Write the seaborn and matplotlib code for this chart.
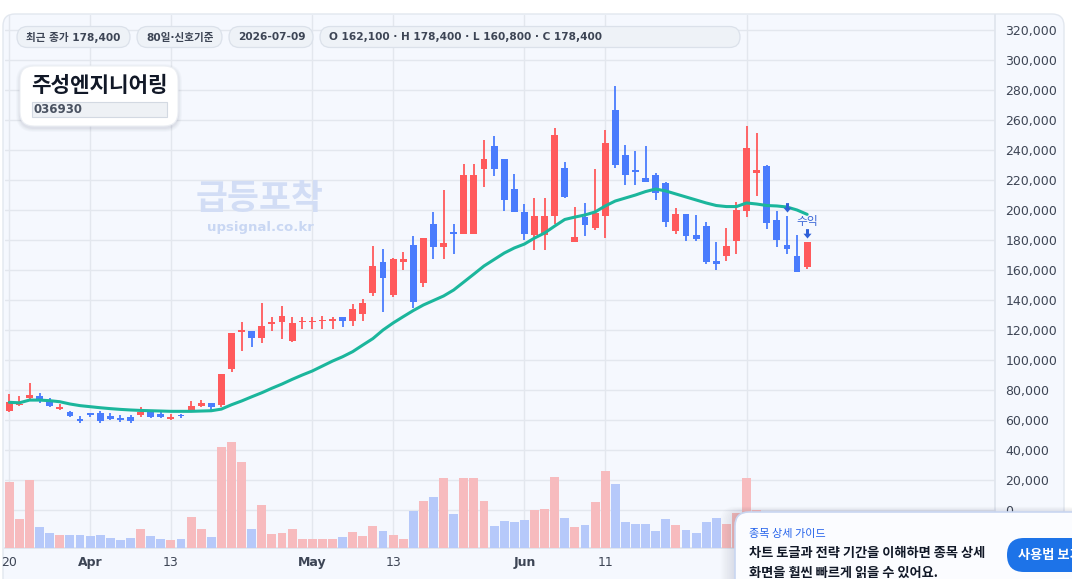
import numpy as np
import pandas as pd
import matplotlib
matplotlib.use("Agg")
import matplotlib.pyplot as plt
import seaborn as sns
from matplotlib.patches import FancyBboxPatch, Rectangle
from matplotlib.path import Path

# ---------------- data ----------------
dates = pd.bdate_range("2026-03-20", "2026-07-09")

opens = [66200, 70000, 74900, 75800, 72200, 67300, 65100, 60700, 64400, 64400,
         62900, 61500, 62200, 63500, 65300, 64000, 60500, 63500, 66900, 69300,
         71100, 70000, 94200, 118900, 119300, 114900, 124000, 125100, 112900, 125100,
         125200, 125800, 126200, 128700, 126200, 130900, 144700, 165300, 143600, 165500,
         176700, 151500, 190700, 175500, 185100, 184200, 184200, 227500, 242700, 234000,
         214000, 198700, 183500, 183500, 196200, 228000, 178900, 195300, 188000, 196200,
         266700, 236700, 226700, 221300, 223300, 218200, 186000, 197300, 183300, 189300,
         166000, 169300, 179500, 199300, 224900, 229500, 193300, 176700, 169300, 162100]
closes = [71800, 70900, 76700, 73100, 69300, 68700, 62900, 59100, 63500, 59500,
          60900, 59800, 59100, 65300, 62200, 61800, 62200, 62500, 69300, 71100,
          68700, 90700, 118000, 119600, 114900, 122700, 125500, 129300, 124700, 125300,
          125400, 126000, 126400, 126200, 134000, 138000, 162700, 154900, 167300, 167300,
          138700, 181300, 175500, 178000, 184200, 223300, 223300, 234000, 227500, 206900,
          198900, 184200, 196000, 196000, 250000, 208700, 182000, 190200, 198200, 244700,
          230200, 223500, 225500, 218700, 211500, 192000, 197300, 182700, 180900, 165500,
          164200, 176000, 200000, 241300, 226700, 191500, 180200, 174200, 158900, 178400]
highs = [77300, 76000, 84700, 78000, 74500, 70700, 66000, 62700, 64400, 65800,
         64700, 63100, 63100, 68700, 66400, 65100, 64000, 64200, 72700, 73300,
         71100, 90700, 118000, 125300, 119300, 138200, 128900, 136000, 128700, 128400,
         128900, 129300, 128900, 128700, 137500, 140400, 176000, 174000, 168200, 172000,
         182700, 181300, 198700, 213300, 190700, 230900, 230900, 246700, 249300, 234000,
         224200, 204000, 208000, 208000, 254900, 232000, 202000, 204700, 227300, 253300,
         282700, 243300, 239300, 242700, 224700, 218700, 201300, 197300, 196700, 192000,
         178900, 188000, 205300, 256000, 251300, 230200, 199300, 196000, 183100, 178400]
lows = [65500, 69300, 73300, 71500, 68700, 66700, 62200, 58200, 61800, 58200,
        60200, 58900, 57800, 62200, 61500, 61300, 59800, 61500, 66200, 68700,
        66400, 68700, 92200, 106000, 108900, 111100, 119500, 114000, 112200, 120700,
        120700, 120700, 120700, 122200, 122900, 125800, 142900, 132200, 141800, 160200,
        134900, 148900, 167500, 167500, 170700, 184200, 184200, 215500, 222900, 199500,
        198900, 180200, 173500, 173500, 190900, 208200, 178900, 182900, 186900, 181500,
        228200, 216900, 216900, 218700, 206900, 188700, 184000, 179300, 179300, 164200,
        160200, 166200, 170900, 195500, 209500, 187500, 175500, 170900, 158900, 160800]
volumes_k = [788, 344, 812, 248, 176, 152, 152, 152, 140, 152,
             116, 92, 116, 224, 140, 104, 92, 104, 368, 224,
             128, 1208, 1268, 1028, 224, 512, 164, 176, 224, 104,
             104, 104, 104, 128, 188, 140, 260, 200, 152, 104,
             440, 560, 608, 836, 404, 836, 836, 560, 260, 320,
             308, 332, 452, 464, 848, 356, 248, 272, 548, 920,
             764, 308, 284, 284, 200, 344, 272, 212, 176, 308,
             356, 284, 416, 840, 456, 360, 300, 240, 360, 336]
ma_values = [71800, 71500, 73300, 73300, 72900, 72200, 70700, 69600, 68900, 68200,
             67600, 67100, 66700, 66400, 66200, 66000, 65800, 65800, 65800, 66000,
             66200, 67300, 70200, 72700, 75500, 78200, 81200, 84000, 87100, 90000,
             92700, 96000, 99300, 102200, 105600, 110000, 114300, 120000, 124700, 128900,
             133000, 136700, 139700, 142700, 146700, 152000, 157300, 162700, 167000, 171300,
             174700, 177300, 181300, 184700, 189300, 193700, 195300, 196700, 198700, 202700,
             206000, 208000, 210000, 212300, 214000, 212700, 210700, 208700, 206700, 204700,
             203000, 202300, 202300, 204700, 204000, 203000, 202700, 202000, 200000, 197100]

# "Jul" tick (index 73) sits under the guide popup in the reference, so its label is empty
tick_idx = [0, 8, 16, 30, 38, 51, 59, 73]
tick_labels = ["20", "Apr", "13", "May", "13", "Jun", "11", ""]
tick_bold = [False, True, False, True, False, True, False, True]
price_ticks = list(range(0, 320001, 20000))

signal_idx = [77, 79]
signal_price = [201500, 183700]
signal_text = "수익"
signal_text_idx = 79
signal_text_price = 192300

stock_name = "주성엔지니어링"
stock_code = "036930"
pill_texts = ["최근 종가 178,400", "80일·신호기준", "2026-07-09",
              "O 162,100 · H 178,400 · L 160,800 · C 178,400"]

# ---------------- style ----------------
sns.set_theme(style="white")
plt.rcParams["font.family"] = ["DejaVu Sans", "Noto Sans CJK KR"]

UP = "#ff5a5c"
DOWN = "#4a7cfd"
UP_V = "#f7bbbe"
DOWN_V = "#b6c9fa"
TXT = "#3d4555"
CJK = ["Noto Sans CJK KR", "DejaVu Sans"]

W, H = 1072, 579
fig = plt.figure(figsize=(W / 100, H / 100), dpi=100)
fig.patch.set_facecolor("#ffffff")

# background container
bg = fig.add_axes([0, 0, 1, 1], zorder=-5)
bg.set_xlim(0, W); bg.set_ylim(H, 0); bg.axis("off")
bg.add_patch(FancyBboxPatch((3, 14), 1061, 620, boxstyle="round,pad=0,rounding_size=12",
                            fc="#f5f8fe", ec="#e2e7ef", lw=1.0))

# main price axes
L, R, T, B = 5, 995, 15, 548
ax = fig.add_axes([L / W, 1 - B / H, (R - L) / W, (B - T) / H], zorder=1)
ax.patch.set_visible(False)
n = len(opens)
x = np.arange(n)
o = np.array(opens); c = np.array(closes); hi = np.array(highs); lo = np.array(lows)
up = c >= o
cols = np.where(up, UP, DOWN)

ax.vlines(x, lo, hi, colors=cols, lw=1.3, zorder=2)
body_b = np.minimum(o, c)
body_h = np.maximum(np.abs(c - o), 900)
ax.bar(x, body_h, bottom=body_b, width=0.68, color=cols, lw=0, zorder=2)

sns.lineplot(x=x, y=ma_values, ax=ax, color="#1bb69c", lw=2.2, zorder=3)

# signals
arrow = Path([(-0.28, 1.0), (0.28, 1.0), (0.28, 0.15), (0.75, 0.15), (0.0, -0.75),
              (-0.75, 0.15), (-0.28, 0.15), (-0.28, 1.0)],
             [Path.MOVETO] + [Path.LINETO] * 6 + [Path.CLOSEPOLY])
ax.scatter(signal_idx, signal_price, marker=arrow, s=60, color="#2f60d8", lw=0, zorder=4)
ax.text(signal_text_idx, signal_text_price, signal_text, ha="center", va="center",
        fontsize=8.5, color="#3a66d6", family=CJK, zorder=4)

ax.set_xlim(-0.43, 97.6)
ax.set_ylim(-25300, 330000)

# volume axes (twin) — created before final tick setup because twinx moves ticks left
vax = ax.twinx()
vax.set_ylim(0, 6396)
vax.bar(x, volumes_k, width=0.88, color=np.where(up, UP_V, DOWN_V), lw=0, zorder=2)
vax.set_yticks([])
for s in vax.spines.values():
    s.set_visible(False)
vax.set_xlim(-0.43, 97.6)

ax.yaxis.tick_right()
ax.yaxis.set_label_position("right")
ax.set_yticks(price_ticks)
ax.set_yticklabels([f"{v:,}" for v in price_ticks])
ax.set_xticks(tick_idx)
ax.set_xticklabels(tick_labels)
for lab, b in zip(ax.get_xticklabels(), tick_bold):
    if b:
        lab.set_fontweight("bold")
ax.tick_params(axis="y", which="both", left=False, right=False, labelleft=False,
               labelright=True, length=0, pad=7.5, labelsize=9, colors=TXT)
ax.tick_params(axis="x", length=0, pad=6, labelsize=9, colors=TXT)
ax.grid(True, color="#e3e7ee", lw=1.0)
ax.set_axisbelow(True)
for s in ["top", "left"]:
    ax.spines[s].set_visible(False)
ax.spines["bottom"].set_color("#dfe4ec")
ax.spines["right"].set_color("#e0e5ed")

# ---------------- overlay ----------------
ov = fig.add_axes([0, 0, 1, 1], zorder=10)
ov.set_xlim(0, W); ov.set_ylim(H, 0); ov.axis("off")
ov.patch.set_alpha(0)

pill_x = [(17, 130), (137, 222), (229, 313), (320, 740)]
for (x0, x1), t in zip(pill_x, pill_texts):
    ov.add_patch(FancyBboxPatch((x0, 26.5), x1 - x0, 21, boxstyle="round,pad=0,rounding_size=10.5",
                                fc="#eef2f7", ec="#dbe1ea", lw=0.9))
    ov.text(x0 + 9, 37.5, t, fontsize=7.6, fontweight="bold", color=TXT, va="center", ha="left")

# title card with soft shadow
for i, a in enumerate([0.035, 0.03, 0.025, 0.02]):
    d = 2 + i * 2
    ov.add_patch(FancyBboxPatch((20 - d / 2, 66 - d / 2 + 2), 158 + d, 60 + d,
                                boxstyle=f"round,pad=0,rounding_size={14 + d / 2}",
                                fc="#1e2a4a", ec="none", alpha=a))
ov.add_patch(FancyBboxPatch((20, 66), 158, 60, boxstyle="round,pad=0,rounding_size=14",
                            fc="#ffffff", ec="#eceff4", lw=0.8))
ov.text(31, 86, stock_name, fontsize=15.3, fontweight="bold", color="#111827",
        family=CJK, va="center", ha="left")
ov.add_patch(Rectangle((32, 102), 135, 15, fc="#eef1f5", ec="#d3d9e2", lw=0.8))
ov.text(34, 109.5, stock_code, fontsize=8.5, fontweight="bold", color="#4a5261",
        va="center", ha="left")

# watermark
ov.text(260, 198, "급등포착", fontsize=25, fontweight="bold", color="#d2ddf5",
        family=CJK, ha="center", va="center")
ov.text(260, 228, "upsignal.co.kr", fontsize=9.5, fontweight="bold", color="#c9d7f3",
        ha="center", va="center")

# guide popup
for i in range(10):
    ov.add_patch(FancyBboxPatch((735 - i * 1.6, 512 - i * 0.6), 360, 100,
                                boxstyle="round,pad=0,rounding_size=14",
                                fc="#1e2a4a", ec="none", alpha=0.012))
ov.add_patch(FancyBboxPatch((735, 512), 360, 100, boxstyle="round,pad=0,rounding_size=14",
                            fc="#fbfcff", ec="#c9d6f1", lw=1.2))
ov.text(749, 534, "종목 상세 가이드", fontsize=8, color="#2563eb", family=CJK,
        va="center", ha="left")
ov.text(749, 553, "차트 토글과 전략 기간을 이해하면 종목 상세", fontsize=9.5,
        fontweight="bold", color="#111827", family=CJK, va="center", ha="left")
ov.text(749, 573, "화면을 훨씬 빠르게 읽을 수 있어요.", fontsize=9.5,
        fontweight="bold", color="#111827", family=CJK, va="center", ha="left")
ov.add_patch(FancyBboxPatch((1007, 538), 100, 34, boxstyle="round,pad=0,rounding_size=17",
                            fc="#1d73e8", ec="none"))
ov.text(1018, 555, "사용법 보기", fontsize=9.5, fontweight="bold", color="white",
        family=CJK, va="center", ha="left")

fig.savefig("out.png", dpi=100, facecolor=fig.get_facecolor())
